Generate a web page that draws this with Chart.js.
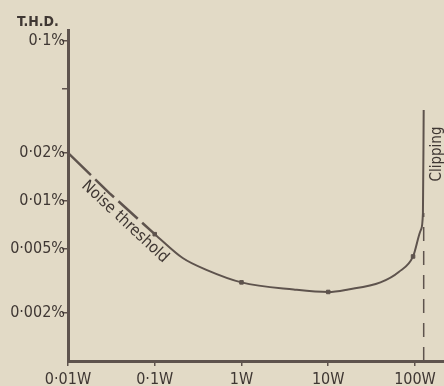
<!DOCTYPE html>
<html>
<head>
<meta charset="utf-8">
<script src="https://cdn.jsdelivr.net/npm/chart.js@4.4.1/dist/chart.umd.min.js"></script>
<style>
  html, body { margin: 0; padding: 0; background: #e2dac6; }
  #wrap { width: 444px; height: 386px; }
</style>
</head>
<body>
<div id="wrap"><canvas id="thd"></canvas></div>
<script>
// power (W) vs total harmonic distortion (%)
const noisePower = [0.01, 0.03, 0.1];
const noiseThd = [0.02, 0.0112, 0.0062];

const curvePower = [0.1, 0.21, 0.4, 1, 4, 10, 17, 40, 65, 95, 117, 123.5, 126];
const curveThd = [0.0062, 0.0044, 0.0037, 0.0031, 0.0028, 0.0027, 0.0028, 0.0031, 0.0036, 0.0045, 0.0066, 0.0084, 0.037];

const markPower = [0.1, 1, 10, 95];
const markThd = [0.0062, 0.0031, 0.0027, 0.0045];

const clipPower = 126;
const clipThd = [0.001, 0.0084];

const xTicks = [0.01, 0.1, 1, 10, 100];
const xLabels = ['0·01W', '0·1W', '1W', '10W', '100W'];
const yTicks = [0.002, 0.005, 0.01, 0.02, 0.05, 0.1];
const yLabels = ['0·002%', '0·005%', '0·01%', '0·02%', '', '0·1%'];

const ink = '#5e534d';
const textInk = '#3f3733';
const font = "'Liberation Sans Narrow', 'DejaVu Sans Condensed', sans-serif";

const toPts = (xs, ys) => xs.map((x, i) => ({ x: x, y: ys[i] }));

const annotations = {
    id: 'annotations',
    afterDraw(chart) {
        const ctx = chart.ctx;
        ctx.save();
        ctx.fillStyle = textInk;
        ctx.font = 'bold 14px ' + font;
        ctx.textAlign = 'left';
        ctx.textBaseline = 'middle';
        ctx.fillText('T.H.D.', 17, 22);

        // noise threshold label along the falling line
        ctx.font = '16px ' + font;
        ctx.translate(125, 222);
        ctx.rotate(43 * Math.PI / 180);
        ctx.textAlign = 'center';
        ctx.fillText('Noise threshold', 0, 0);
        ctx.restore();

        ctx.save();
        ctx.fillStyle = textInk;
        ctx.font = '15px ' + font;
        ctx.translate(437, 154);
        ctx.rotate(-Math.PI / 2);
        ctx.textAlign = 'center';
        ctx.textBaseline = 'middle';
        ctx.fillText('Clipping', 0, 0);
        ctx.restore();
    }
};

new Chart(document.getElementById('thd'), {
    type: 'line',
    data: {
        datasets: [
            {
                label: 'Noise threshold',
                data: toPts(noisePower, noiseThd),
                borderColor: ink,
                borderWidth: 2.5,
                borderDash: [32, 6, 26, 6, 26, 6],
                pointRadius: 0,
                tension: 0,
            },
            {
                label: 'THD',
                data: toPts(curvePower, curveThd),
                borderColor: ink,
                borderWidth: 2,
                pointRadius: 0,
                cubicInterpolationMode: 'monotone',
            },
            {
                label: 'Clipping',
                data: clipThd.map(v => ({ x: clipPower, y: v })),
                borderColor: ink,
                borderWidth: 1.5,
                borderDash: [14, 10],
                pointRadius: 0,
            },
            {
                label: 'Measured',
                data: toPts(markPower, markThd),
                showLine: false,
                pointStyle: 'rect',
                pointRadius: 2.5,
                backgroundColor: ink,
                borderColor: ink,
            },
        ],
    },
    options: {
        responsive: true,
        maintainAspectRatio: false,
        animation: false,
        layout: { autoPadding: false, padding: { top: 30, right: 0, left: 0, bottom: 0 } },
        plugins: {
            legend: { display: false },
            tooltip: { enabled: false },
        },
        scales: {
            x: {
                type: 'logarithmic',
                min: 0.01,
                max: 216,
                afterBuildTicks: (scale) => { scale.ticks = xTicks.map(v => ({ value: v })); },
                afterFit: (scale) => { scale.height = 25; },
                border: { display: true, color: ink, width: 3 },
                grid: { drawOnChartArea: false, drawTicks: true, tickLength: 5, color: ink, lineWidth: 1.5 },
                ticks: {
                    autoSkip: false,
                    maxRotation: 0,
                    padding: 4,
                    color: textInk,
                    font: { family: font, size: 16 },
                    callback: (v) => xLabels[xTicks.indexOf(v)] ?? '',
                },
            },
            y: {
                type: 'logarithmic',
                min: 0.001,
                max: 0.117,
                afterBuildTicks: (scale) => { scale.ticks = yTicks.map(v => ({ value: v })); },
                afterFit: (scale) => { scale.width = 68; },
                border: { display: true, color: ink, width: 3 },
                grid: { drawOnChartArea: false, drawTicks: true, tickLength: 6, color: ink, lineWidth: 1.5 },
                ticks: {
                    autoSkip: false,
                    padding: -3,
                    color: textInk,
                    font: { family: font, size: 16 },
                    callback: (v) => yLabels[yTicks.indexOf(v)] ?? '',
                },
            },
        },
    },
    plugins: [annotations],
});
</script>
</body>
</html>
